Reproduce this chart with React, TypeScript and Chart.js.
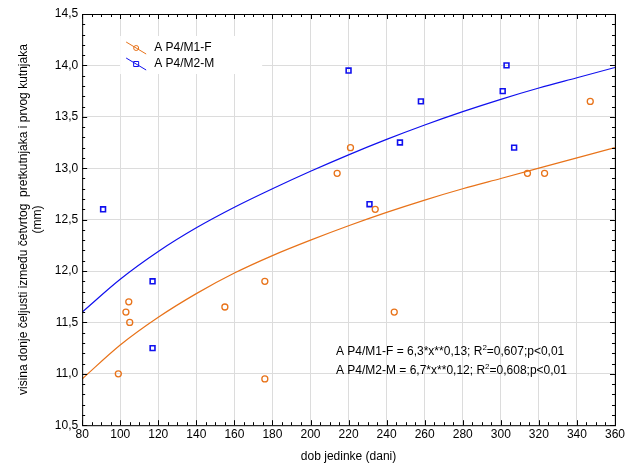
import { useEffect, useRef } from 'react'
import { Chart, registerables } from 'chart.js'

Chart.register(...registerables);

const femaleX = [99, 103, 104.5, 105, 155, 176, 176, 214, 221, 234, 244, 314, 323, 347];
const femaleY = [11.0, 11.6, 11.7, 11.5, 11.65, 11.9, 10.95, 12.95, 13.2, 12.6, 11.6, 12.95, 12.95, 13.65];
const maleX = [91, 117, 117, 220, 231, 247, 258, 301, 303, 307];
const maleY = [12.6, 11.9, 11.25, 13.95, 12.65, 13.25, 13.65, 13.75, 14.0, 13.2];

// fitted curves
const fitX = [80, 100, 120, 140, 160, 180, 200, 220, 240, 260, 280, 300, 320, 340, 360];
const femaleFit = [10.95, 11.28, 11.55, 11.78, 11.98, 12.15, 12.3, 12.44, 12.57, 12.69, 12.8, 12.9, 13.0, 13.1, 13.2];
const maleFit = [11.6, 11.92, 12.19, 12.42, 12.62, 12.8, 12.97, 13.13, 13.28, 13.42, 13.55, 13.67, 13.78, 13.88, 13.98];

const ORANGE = '#e8731a';
const BLUE = '#1010ee';
const FONT = '"Liberation Sans", Arial, sans-serif';

const pts = (xs: number[], ys: number[]) => xs.map((x, i) => ({ x, y: ys[i] }));

const decor = {
  id: 'decor',
  afterDraw(chart: any) {
    const { ctx, chartArea: a, scales } = chart;
    const xs = scales.x, ys = scales.y;
    ctx.save();
    ctx.strokeStyle = '#000';
    ctx.lineWidth = 1;
    ctx.strokeRect(a.left + 0.5, a.top + 0.5, a.right - a.left, a.bottom - a.top);
    ctx.beginPath();
    for (let v = 80; v <= 360; v += 5) {
      const p = Math.round(xs.getPixelForValue(v)) + 0.5;
      const l = v % 20 === 0 ? 5 : 3;
      ctx.moveTo(p, a.top); ctx.lineTo(p, a.top + l);
      ctx.moveTo(p, a.bottom); ctx.lineTo(p, a.bottom - l);
    }
    for (let i = 105; i <= 145; i++) {
      const v = i / 10;
      const p = Math.round(ys.getPixelForValue(v)) + 0.5;
      const l = i % 5 === 0 ? 5 : 3;
      ctx.moveTo(a.left, p); ctx.lineTo(a.left + l, p);
      ctx.moveTo(a.right, p); ctx.lineTo(a.right - l, p);
    }
    ctx.stroke();

    // legend
    ctx.fillStyle = '#fff';
    ctx.fillRect(a.left + 38, a.top + 22, 142, 38);
    ctx.font = `12px ${FONT}`;
    ctx.textBaseline = 'middle';
    const rows = [{ c: ORANGE, t: 'A P4/M1-F', sq: false }, { c: BLUE, t: 'A P4/M2-M', sq: true }];
    rows.forEach((r, i) => {
      const y = a.top + 34 + i * 16;
      const x = a.left + 54;
      ctx.strokeStyle = r.c;
      ctx.beginPath(); ctx.moveTo(x - 10, y - 6); ctx.lineTo(x + 10, y + 6); ctx.stroke();
      ctx.beginPath();
      if (r.sq) ctx.rect(x - 2.5, y - 2.5, 5, 5); else ctx.arc(x, y, 2.5, 0, Math.PI * 2);
      ctx.stroke();
      ctx.fillStyle = '#000';
      ctx.fillText(r.t, x + 18, y);
    });

    // equations
    const eq = (y: number, a1: string, a2: string) => {
      let x = 336;
      ctx.font = `12px ${FONT}`;
      ctx.fillText(a1, x, y); x += ctx.measureText(a1).width;
      ctx.font = `8px ${FONT}`;
      ctx.fillText('2', x, y - 4); x += ctx.measureText('2').width;
      ctx.font = `12px ${FONT}`;
      ctx.fillText(a2, x, y);
    };
    ctx.fillStyle = '#000';
    eq(352, 'A P4/M1-F = 6,3*x**0,13; R', '=0,607;p<0,01');
    eq(371, 'A P4/M2-M = 6,7*x**0,12; R', '=0,608;p<0,01');
    ctx.restore();
  },
};

export default function App() {
  const ref = useRef<HTMLCanvasElement>(null);
  useEffect(() => {
    document.body.style.margin = '0';
    if (!ref.current) return;
    const chart = new Chart(ref.current, {
      type: 'scatter',
      data: {
        datasets: [
          { data: pts(femaleX, femaleY), borderColor: ORANGE, backgroundColor: 'transparent', pointStyle: 'circle', pointRadius: 3, borderWidth: 1.3 },
          { data: pts(maleX, maleY), borderColor: BLUE, backgroundColor: 'transparent', pointStyle: 'rect', pointRadius: 3.4, borderWidth: 1.6 },
          { data: pts(fitX, femaleFit), showLine: true, borderColor: ORANGE, borderWidth: 1.2, pointRadius: 0, cubicInterpolationMode: 'monotone' },
          { data: pts(fitX, maleFit), showLine: true, borderColor: BLUE, borderWidth: 1.2, pointRadius: 0, cubicInterpolationMode: 'monotone' },
        ],
      },
      options: {
        animation: false,
        responsive: false,
        layout: { padding: { top: 14, right: 10, left: 12, bottom: 0 } },
        plugins: { legend: { display: false }, tooltip: { enabled: false } },
        scales: {
          x: {
            min: 80, max: 360,
            ticks: { stepSize: 20, color: '#000', font: { family: FONT, size: 12 }, padding: 2 },
            grid: { color: '#dcdcdc', drawTicks: false },
            border: { display: false },
            title: { display: true, text: 'dob jedinke (dani)', color: '#000', font: { family: FONT, size: 12 }, padding: { top: 6, bottom: 6 } },
          },
          y: {
            min: 10.5, max: 14.5,
            ticks: { stepSize: 0.5, color: '#000', font: { family: FONT, size: 12 }, padding: 4, callback: (v: any) => Number(v).toFixed(1).replace('.', ',') },
            grid: { color: '#dcdcdc', drawTicks: false },
            border: { display: false },
            title: { display: true, text: ['visina donje čeljusti između četvrtog  pretkutnjaka i prvog kutnjaka', '(mm)'], color: '#000', font: { family: FONT, size: 12 }, padding: { bottom: 6 } },
          },
        },
      },
      plugins: [decor],
    });
    return () => chart.destroy();
  }, []);
  return <canvas ref={ref} width={627} height={470} />;
}
